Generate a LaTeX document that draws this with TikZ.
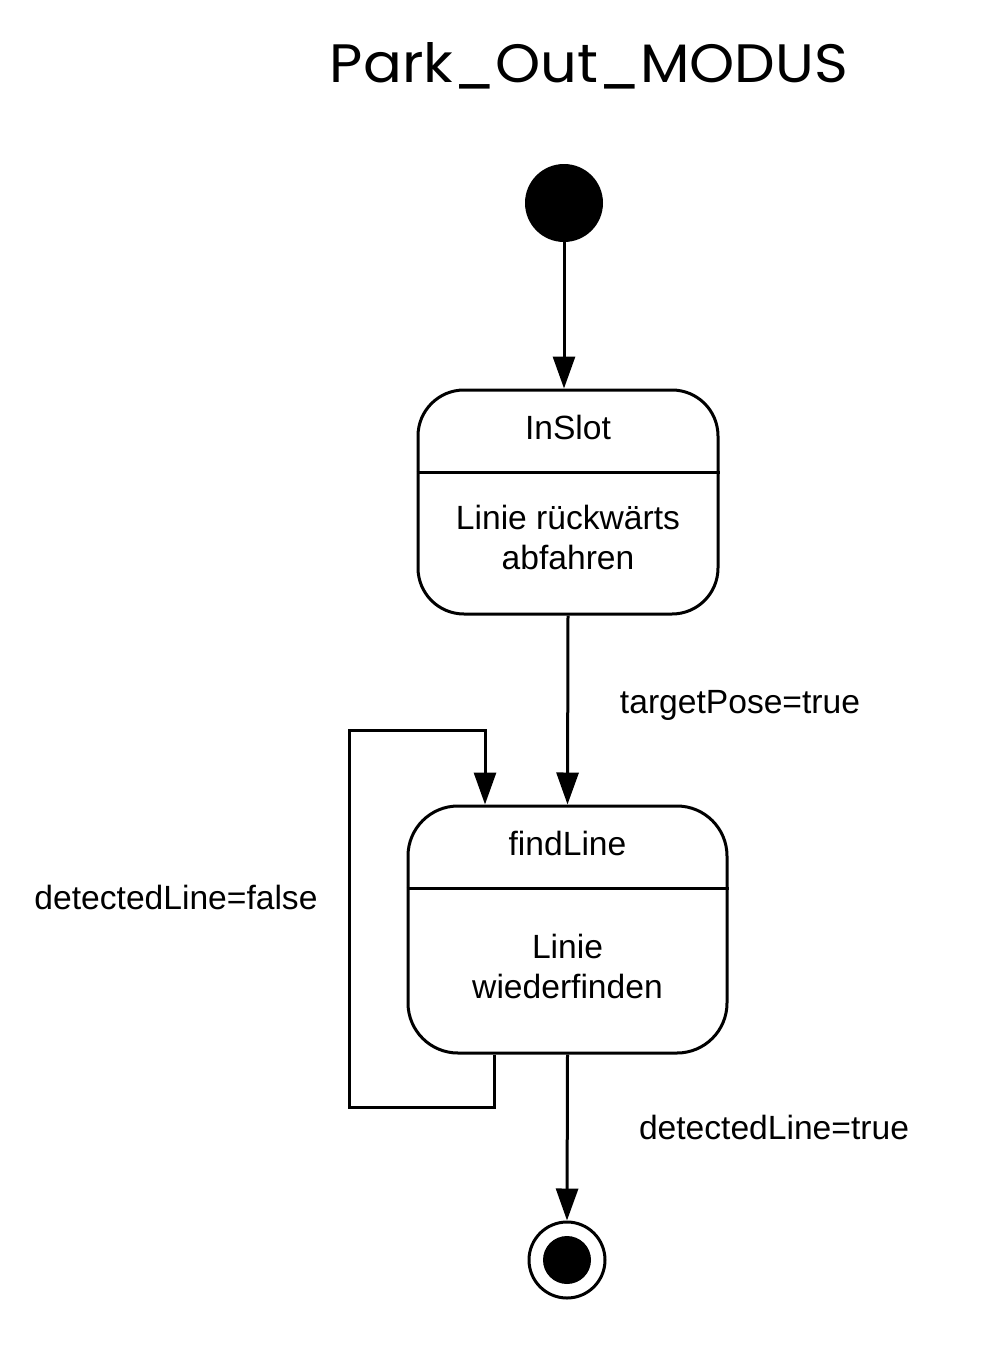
\documentclass[tikz,border=0pt]{standalone}
\usepackage{fontspec}
\usepackage{graphicx}
\setmainfont{Liberation Sans}
\newfontfamily\titlefont{Poppins}
\usetikzlibrary{arrows.meta}
\begin{document}
\begin{tikzpicture}[x=1pt,y=-1pt,
  arr/.style={line width=3pt,-{Triangle[length=32pt,width=22pt]}},
  statebox/.style={draw,line width=3pt,rounded corners=46pt,inner sep=0pt},
  txt/.style={inner sep=0pt,font=\fontsize{33.6}{40}\selectfont},
  lbl/.style={inner sep=0pt,font=\fontsize{33.6}{40}\selectfont}]
\useasboundingbox (0,0) rectangle (999,1352);
\node[inner sep=0pt] (title) at (589,66) {\resizebox{518pt}{40pt}{\titlefont Park\_Out\_MODUS}};
\node[circle,fill=black,minimum size=78pt,inner sep=0pt] (init) at (564,203) {};
\node[statebox,minimum width=300pt,minimum height=224pt] (inslot) at (568,502) {};
\draw[line width=3pt] (inslot.west |- 0,472) -- (inslot.east |- 0,472);
\node[txt] (t1) at (568,427) {InSlot};
\node[txt,align=center] (t2) at (568,537) {Linie rückwärts\\abfahren};
\node[statebox,minimum width=319pt,minimum height=247pt,rounded corners=50pt] (findline) at (567.5,929.5) {};
\draw[line width=3pt] (findline.west |- 0,888) -- (findline.east |- 0,888);
\node[txt] (t3) at (567.5,843) {findLine};
\node[txt,align=center] (t4) at (567.5,966) {Linie\\wiederfinden};
\node[circle,draw,line width=3pt,fill=white,minimum size=76pt,inner sep=0pt] (final) at (567,1260) {};
\node[circle,fill=black,minimum size=48pt,inner sep=0pt] (finalin) at (567,1260) {};
\draw[arr] (init.south) -- (init.south |- inslot.north);
\draw[arr] (inslot.south) -- (findline.north);
\draw[arr] ([xshift=-73.5pt]findline.south) |- (349,1107) |- (485,730) -- ([xshift=-82.5pt]findline.north);
\draw[arr] (findline.south) -- (final.north);
\node[lbl] (l1) at (740,705) {targetPose=true};
\node[lbl] (l2) at (176,897) {detectedLine=false};
\node[lbl] (l3) at (774,1127) {detectedLine=true};
\end{tikzpicture}
\end{document}
